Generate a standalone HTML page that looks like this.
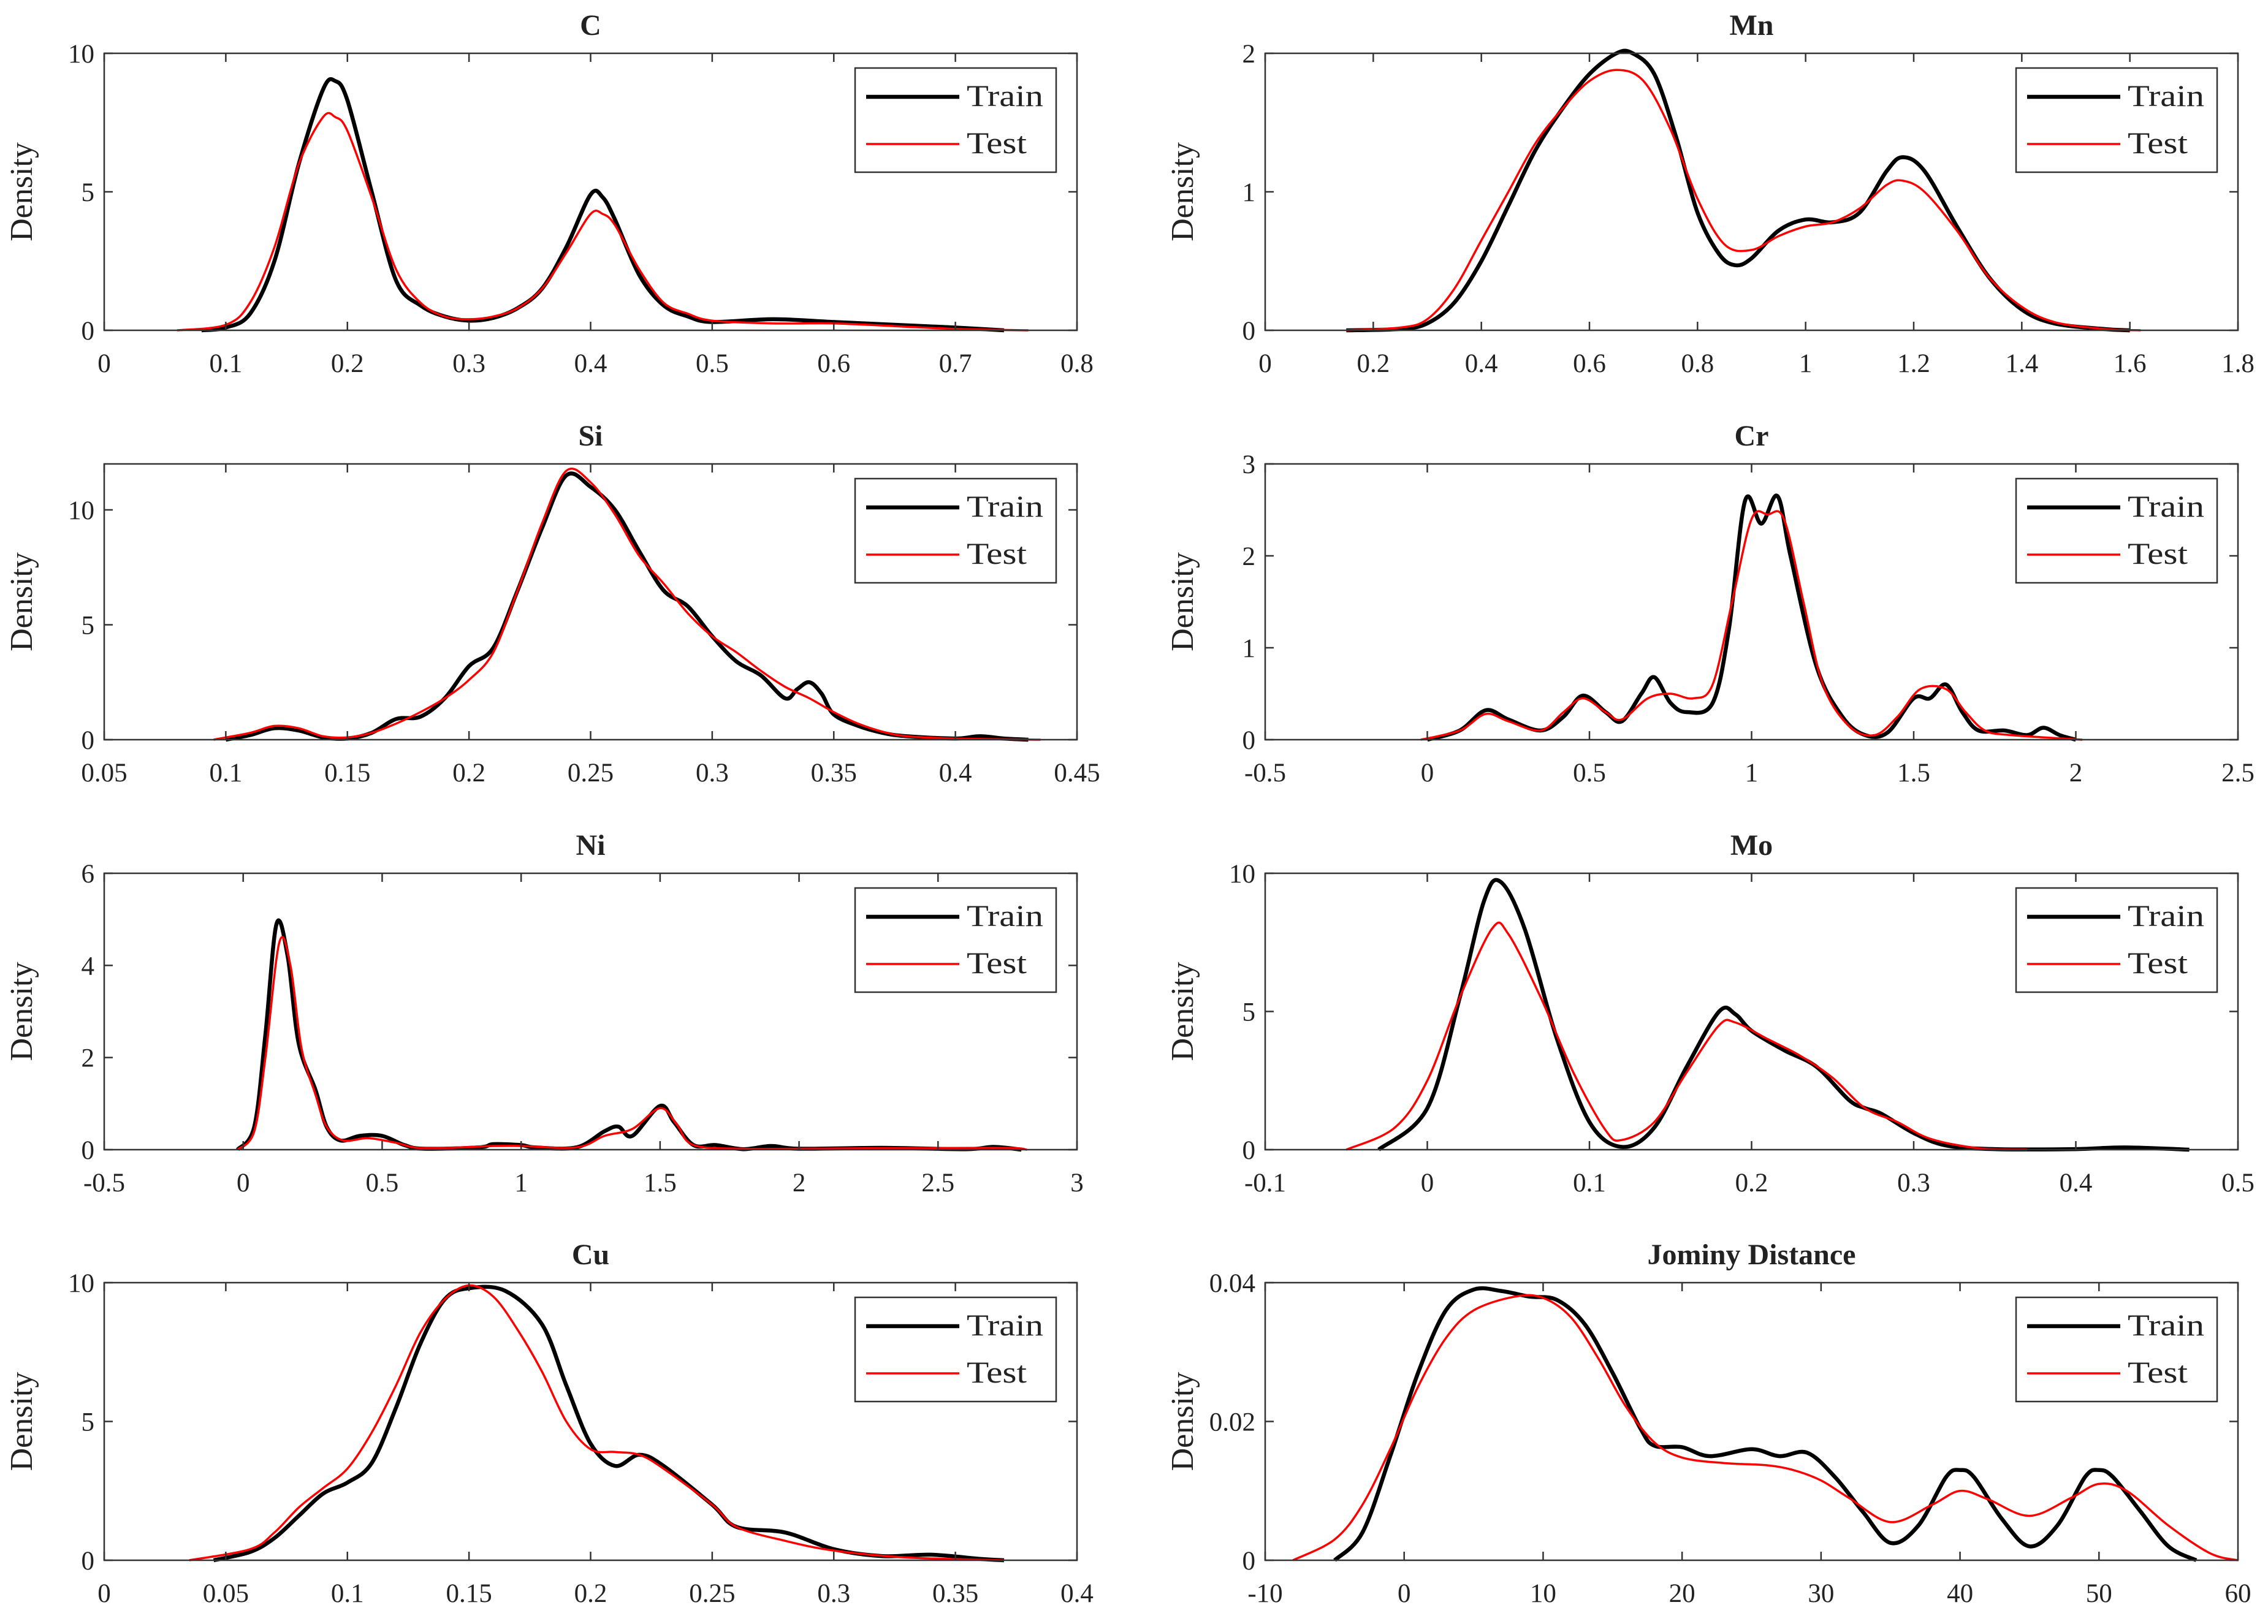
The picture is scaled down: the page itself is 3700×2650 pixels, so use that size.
<!DOCTYPE html>
<html><head><meta charset="utf-8"><style>
html,body{margin:0;padding:0;background:#fff;}
svg{display:block;}
text{font-family:"Liberation Serif",serif;fill:#222;}
</style></head><body>
<svg id="fig" width="3700" height="2650" viewBox="0 0 3700 2650" xmlns="http://www.w3.org/2000/svg"></svg>
<script>
// ---- data arrays ----
const cTrainX=[0.08,0.1,0.12,0.14,0.16,0.18,0.19,0.2,0.22,0.24,0.26,0.28,0.3,0.32,0.34,0.36,0.38,0.4,0.41,0.42,0.44,0.46,0.48,0.5,0.55,0.6,0.65,0.7,0.74];
const cTrainY=[0,0.1,0.6,2.5,6.0,8.7,9.0,8.3,5.0,1.8,0.9,0.5,0.35,0.45,0.8,1.5,3.0,4.9,4.8,4.0,2.0,0.9,0.5,0.3,0.4,0.3,0.2,0.1,0];
const cTestX=[0.06,0.1,0.12,0.14,0.16,0.18,0.19,0.2,0.22,0.24,0.26,0.28,0.3,0.32,0.34,0.36,0.38,0.4,0.41,0.42,0.44,0.46,0.48,0.5,0.55,0.6,0.65,0.7,0.76];
const cTestY=[0,0.2,1.0,3.0,6.0,7.7,7.7,7.2,4.8,2.2,1.0,0.5,0.4,0.5,0.8,1.5,2.8,4.2,4.2,3.8,2.2,1.0,0.6,0.35,0.25,0.25,0.15,0.05,0];

const mnTrainX=[0.15,0.25,0.3,0.35,0.4,0.45,0.5,0.55,0.6,0.65,0.68,0.72,0.76,0.8,0.84,0.87,0.9,0.95,1.0,1.05,1.1,1.15,1.18,1.22,1.28,1.34,1.4,1.46,1.55,1.6];
const mnTrainY=[0,0.01,0.05,0.2,0.5,0.9,1.3,1.6,1.85,2.0,2.0,1.85,1.4,0.85,0.55,0.47,0.52,0.72,0.8,0.78,0.85,1.15,1.25,1.15,0.75,0.38,0.15,0.05,0.01,0];
const mnTestX=[0.15,0.25,0.3,0.35,0.4,0.45,0.5,0.55,0.6,0.65,0.7,0.75,0.8,0.85,0.9,0.95,1.0,1.05,1.1,1.15,1.18,1.22,1.28,1.34,1.4,1.46,1.55,1.62];
const mnTestY=[0,0.02,0.08,0.3,0.65,1.0,1.35,1.6,1.8,1.88,1.8,1.45,0.95,0.62,0.58,0.68,0.75,0.78,0.88,1.05,1.08,1.0,0.72,0.38,0.17,0.06,0.01,0];

const siTrainX=[0.1,0.11,0.12,0.13,0.14,0.15,0.16,0.17,0.18,0.19,0.2,0.21,0.22,0.23,0.24,0.25,0.26,0.27,0.28,0.29,0.3,0.31,0.32,0.33,0.335,0.34,0.345,0.35,0.36,0.37,0.38,0.4,0.41,0.42,0.43];
const siTrainY=[0,0.2,0.5,0.4,0.1,0.05,0.3,0.9,1.0,1.8,3.2,4.0,6.5,9.2,11.5,11.0,10.0,8.2,6.5,5.8,4.5,3.4,2.8,1.8,2.2,2.5,2.0,1.1,0.6,0.3,0.15,0.05,0.15,0.05,0];
const siTestX=[0.095,0.11,0.12,0.13,0.14,0.15,0.16,0.17,0.18,0.19,0.2,0.21,0.22,0.23,0.24,0.25,0.26,0.27,0.28,0.29,0.3,0.31,0.32,0.33,0.34,0.35,0.36,0.37,0.38,0.4,0.435];
const siTestY=[0,0.3,0.6,0.5,0.15,0.1,0.3,0.7,1.2,1.8,2.6,3.8,6.5,9.4,11.7,11.2,9.8,8.0,6.8,5.5,4.5,3.8,3.0,2.3,1.8,1.2,0.7,0.35,0.15,0.05,0];

const crTrainX=[0,0.1,0.18,0.25,0.35,0.42,0.48,0.55,0.6,0.66,0.7,0.75,0.8,0.88,0.93,0.98,1.03,1.08,1.12,1.2,1.28,1.35,1.42,1.5,1.55,1.6,1.65,1.7,1.78,1.85,1.9,1.95,2.0];
const crTrainY=[0,0.1,0.32,0.22,0.1,0.25,0.48,0.3,0.2,0.5,0.68,0.4,0.3,0.4,1.2,2.6,2.35,2.65,2.0,0.8,0.25,0.05,0.08,0.45,0.45,0.6,0.3,0.1,0.1,0.05,0.13,0.05,0];
const crTestX=[-0.02,0.1,0.18,0.25,0.35,0.42,0.48,0.55,0.6,0.68,0.75,0.82,0.88,0.94,1.0,1.05,1.1,1.16,1.22,1.3,1.38,1.45,1.52,1.6,1.66,1.72,1.8,2.02];
const crTestY=[0,0.1,0.28,0.2,0.1,0.3,0.45,0.3,0.22,0.45,0.5,0.45,0.6,1.5,2.4,2.45,2.4,1.5,0.6,0.15,0.05,0.25,0.55,0.55,0.3,0.1,0.05,0];

const niTrainX=[-0.02,0.04,0.08,0.12,0.16,0.2,0.26,0.3,0.35,0.42,0.5,0.58,0.65,0.85,0.9,1.0,1.05,1.2,1.3,1.35,1.4,1.5,1.55,1.62,1.7,1.8,1.9,2.0,2.3,2.6,2.7,2.8];
const niTrainY=[0,0.5,2.5,4.9,4.2,2.3,1.3,0.5,0.2,0.3,0.3,0.1,0.02,0.05,0.12,0.1,0.05,0.05,0.4,0.5,0.3,0.95,0.6,0.1,0.1,0.01,0.08,0.02,0.04,0.01,0.06,0];
const niTestX=[-0.02,0.04,0.08,0.13,0.17,0.21,0.26,0.3,0.36,0.45,0.55,0.65,0.9,1.0,1.2,1.3,1.4,1.5,1.56,1.62,1.8,2.0,2.7,2.82];
const niTestY=[0,0.4,2.0,4.5,4.0,2.2,1.2,0.5,0.2,0.25,0.15,0.03,0.08,0.08,0.05,0.3,0.45,0.9,0.55,0.1,0.02,0.02,0.04,0];

const moTrainX=[-0.03,0,0.02,0.035,0.045,0.06,0.08,0.1,0.12,0.14,0.16,0.18,0.19,0.2,0.22,0.24,0.26,0.27,0.28,0.3,0.32,0.35,0.4,0.43,0.47];
const moTrainY=[0,1.5,5.5,9.0,9.7,8.0,4.0,1.0,0.1,0.8,3.0,5.0,4.9,4.3,3.6,3.0,1.8,1.5,1.3,0.6,0.15,0.02,0.02,0.08,0];
const moTestX=[-0.05,-0.02,0,0.02,0.04,0.05,0.07,0.09,0.11,0.12,0.14,0.16,0.18,0.19,0.21,0.23,0.25,0.27,0.29,0.31,0.34,0.37];
const moTestY=[0,0.8,2.5,5.5,8.0,7.8,5.5,2.8,0.7,0.35,1.0,2.8,4.5,4.6,4.0,3.4,2.6,1.5,1.0,0.4,0.05,0];

const cuTrainX=[0.045,0.06,0.07,0.08,0.09,0.1,0.11,0.12,0.13,0.14,0.15,0.165,0.18,0.19,0.2,0.21,0.22,0.23,0.25,0.26,0.28,0.3,0.32,0.34,0.36,0.37];
const cuTrainY=[0,0.3,0.8,1.6,2.4,2.8,3.5,5.5,7.8,9.4,9.8,9.7,8.5,6.3,4.2,3.4,3.8,3.4,2.0,1.2,1.0,0.4,0.15,0.2,0.05,0];
const cuTestX=[0.035,0.06,0.07,0.08,0.09,0.1,0.11,0.12,0.13,0.14,0.15,0.16,0.17,0.18,0.19,0.2,0.21,0.22,0.23,0.25,0.26,0.28,0.3,0.33,0.37];
const cuTestY=[0,0.4,1.0,1.9,2.6,3.3,4.6,6.3,8.2,9.4,9.9,9.5,8.3,6.8,5.0,4.0,3.9,3.8,3.3,2.0,1.2,0.7,0.35,0.1,0];

const joTrainX=[-5,-3,-1,1,3,5,7,9,11,13,15,17,18,20,22,25,27,29,31,33,35,37,39,40,41,43,45,47,49,50,51,53,55,57];
const joTrainY=[0,0.004,0.015,0.027,0.036,0.039,0.0388,0.038,0.0375,0.034,0.027,0.019,0.0165,0.0163,0.015,0.016,0.015,0.0155,0.012,0.007,0.0025,0.005,0.012,0.013,0.012,0.006,0.002,0.005,0.012,0.013,0.012,0.007,0.002,0];
const joTestX=[-8,-5,-3,-1,1,3,5,8,10,12,14,16,18,20,23,26,28,30,32,35,38,40,42,45,48,50,52,55,58,60];
const joTestY=[0,0.003,0.008,0.016,0.025,0.032,0.036,0.038,0.0378,0.035,0.029,0.022,0.017,0.0148,0.014,0.0137,0.013,0.0115,0.009,0.0055,0.008,0.01,0.0088,0.0064,0.009,0.011,0.01,0.005,0.001,0];

const titles=["C","Mn","Si","Cr","Ni","Mo","Cu","Jominy Distance"];
const xTicks=[[0,0.1,0.2,0.3,0.4,0.5,0.6,0.7,0.8],[0,0.2,0.4,0.6,0.8,1,1.2,1.4,1.6,1.8],[0.05,0.1,0.15,0.2,0.25,0.3,0.35,0.4,0.45],[-0.5,0,0.5,1,1.5,2,2.5],[-0.5,0,0.5,1,1.5,2,2.5,3],[-0.1,0,0.1,0.2,0.3,0.4,0.5],[0,0.05,0.1,0.15,0.2,0.25,0.3,0.35,0.4],[-10,0,10,20,30,40,50,60]];
const yTicks=[[0,5,10],[0,1,2],[0,5,10],[0,1,2,3],[0,2,4,6],[0,5,10],[0,5,10],[0,0.02,0.04]];
const yMax=[10,2,12,3,6,10,10,0.04];
const trainX=[cTrainX,mnTrainX,siTrainX,crTrainX,niTrainX,moTrainX,cuTrainX,joTrainX];
const trainY=[cTrainY,mnTrainY,siTrainY,crTrainY,niTrainY,moTrainY,cuTrainY,joTrainY];
const testX=[cTestX,mnTestX,siTestX,crTestX,niTestX,moTestX,cuTestX,joTestX];
const testY=[cTestY,mnTestY,siTestY,crTestY,niTestY,moTestY,cuTestY,joTestY];
const slugs=["c","mn","si","cr","ni","mo","cu","jominy"];

// ---- drawing ----
const NS="http://www.w3.org/2000/svg";
const svg=document.getElementById('fig');
function mk(tag,attrs,parent){const e=document.createElementNS(NS,tag);for(const k in attrs)e.setAttribute(k,attrs[k]);(parent||svg).appendChild(e);return e;}
const colL=[170,1757],colR=[2064,3651];
const rowT=[87,757,1425,2093],rowB=[539,1207,1876,2546];
function smooth(pts){
  let d="M"+pts[0][0].toFixed(1)+","+pts[0][1].toFixed(1);
  for(let i=0;i<pts.length-1;i++){
    const p0=pts[i-1]||pts[i],p1=pts[i],p2=pts[i+1],p3=pts[i+2]||p2;
    const c1=[p1[0]+(p2[0]-p0[0])/6,p1[1]+(p2[1]-p0[1])/6];
    const c2=[p2[0]-(p3[0]-p1[0])/6,p2[1]-(p3[1]-p1[1])/6];
    d+="C"+c1[0].toFixed(1)+","+c1[1].toFixed(1)+" "+c2[0].toFixed(1)+","+c2[1].toFixed(1)+" "+p2[0].toFixed(1)+","+p2[1].toFixed(1);
  }
  return d;
}
for(let p=0;p<8;p++){
  const col=p%2?colR:colL, r=Math.floor(p/2);
  const L=col[0],R=col[1],T=rowT[r],B=rowB[r];
  const xt=xTicks[p],x0=xt[0],x1=xt[xt.length-1];
  const sx=v=>L+(v-x0)/(x1-x0)*(R-L);
  const sy=v=>B-v/yMax[p]*(B-T);
  const g=mk('g',{});
  
  
  const t=mk('text',{x:(L+R)/2,y:T-30,'text-anchor':'middle','font-size':48,'font-weight':'bold'},g);
  t.textContent=titles[p];
  
  
  const yl=mk('text',{transform:`translate(${L-118},${(T+B)/2}) rotate(-90)`,'text-anchor':'middle','font-size':52},g);
  yl.textContent="Density";
  
  
  const tp=mk('path',{d:smooth(trainX[p].map((v,i)=>[sx(v),sy(trainY[p][i])])),fill:'none',stroke:'#000','stroke-width':6.5,'stroke-linejoin':'round'},g);
  
  
  const ep=mk('path',{d:smooth(testX[p].map((v,i)=>[sx(v),sy(testY[p][i])])),fill:'none',stroke:'#ff0000','stroke-width':3.5,'stroke-linejoin':'round'},g);
  
  
  const box=mk('rect',{x:L,y:T,width:R-L,height:B-T,fill:'none',stroke:'#333','stroke-width':2.5},g);
  
  
  xt.forEach(v=>{
    const x=sx(v);
    mk('line',{x1:x,y1:B,x2:x,y2:B-14,stroke:'#333','stroke-width':2.5},g);
    mk('line',{x1:x,y1:T,x2:x,y2:T+14,stroke:'#333','stroke-width':2.5},g);
    const lb=mk('text',{x:x,y:B+68,'text-anchor':'middle','font-size':43},g);
    lb.textContent=String(v);
    
    
  });
  yTicks[p].forEach(v=>{
    const y=sy(v);
    mk('line',{x1:L,y1:y,x2:L+14,y2:y,stroke:'#333','stroke-width':2.5},g);
    mk('line',{x1:R,y1:y,x2:R-14,y2:y,stroke:'#333','stroke-width':2.5},g);
    const lb=mk('text',{x:L-16,y:y+15,'text-anchor':'end','font-size':43},g);
    lb.textContent=String(v);
    
    
  });
  const lg=mk('g',{},g);
  
  
  const lx=R-362,ly=T+24;
  mk('rect',{x:lx,y:ly,width:328,height:170,fill:'#fff',stroke:'#333','stroke-width':2.5},lg);
  mk('line',{x1:lx+18,y1:ly+47,x2:lx+170,y2:ly+47,stroke:'#000','stroke-width':6.5},lg);
  mk('line',{x1:lx+18,y1:ly+124,x2:lx+170,y2:ly+124,stroke:'#ff0000','stroke-width':3.5},lg);
  const a=mk('text',{x:lx+182,y:ly+62,'font-size':50,textLength:125,lengthAdjust:'spacingAndGlyphs'},lg);a.textContent="Train";
  
  
  const b=mk('text',{x:lx+182,y:ly+139,'font-size':50,textLength:98,lengthAdjust:'spacingAndGlyphs'},lg);b.textContent="Test";
  
  
}
</script>
</body></html>
